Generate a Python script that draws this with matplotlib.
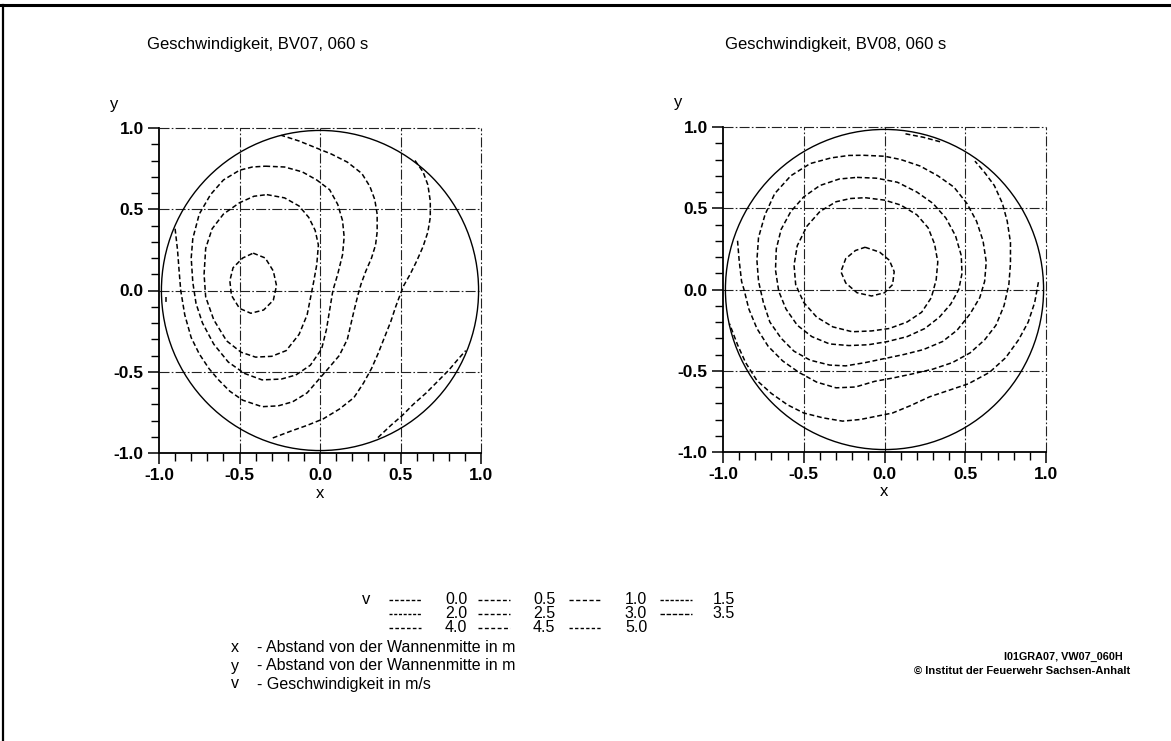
import matplotlib.pyplot as plt
from matplotlib.patches import Circle
from matplotlib.lines import Line2D

plt.rcParams['font.family'] = ['Liberation Sans', 'DejaVu Sans']

W, H = 1171, 741

titles = ["Geschwindigkeit, BV07, 060 s", "Geschwindigkeit, BV08, 060 s"]
tank_radius = 0.985
tick_values = [-1.0, -0.5, 0.0, 0.5, 1.0]
tick_labels = ["-1.0", "-0.5", "0.0", "0.5", "1.0"]

# isolines BV07, (x, y) in m
bv07_c1 = [(-0.415, 0.23), (-0.34, 0.20), (-0.29, 0.12), (-0.27, 0.03), (-0.29, -0.06),
           (-0.35, -0.12), (-0.43, -0.14), (-0.50, -0.11), (-0.55, -0.03), (-0.56, 0.06),
           (-0.54, 0.14), (-0.48, 0.20), (-0.415, 0.23)]
bv07_c2 = [(-0.33, 0.59), (-0.22, 0.57), (-0.13, 0.52), (-0.07, 0.45), (-0.03, 0.37),
           (-0.01, 0.28), (-0.02, 0.16), (-0.04, 0.05), (-0.06, -0.05), (-0.08, -0.15),
           (-0.13, -0.27), (-0.21, -0.37), (-0.30, -0.405), (-0.40, -0.41), (-0.49, -0.38),
           (-0.58, -0.31), (-0.66, -0.18), (-0.71, -0.04), (-0.72, 0.10), (-0.71, 0.26),
           (-0.67, 0.38), (-0.60, 0.47), (-0.50, 0.54), (-0.41, 0.58), (-0.33, 0.59)]
bv07_c3 = [(-0.34, 0.765), (-0.22, 0.76), (-0.11, 0.73), (-0.02, 0.68), (0.06, 0.62),
           (0.11, 0.53), (0.14, 0.43), (0.15, 0.33), (0.14, 0.22), (0.11, 0.10), (0.08, 0.0),
           (0.06, -0.12), (0.04, -0.24), (0.01, -0.36), (-0.06, -0.46), (-0.15, -0.52),
           (-0.24, -0.545), (-0.36, -0.55), (-0.47, -0.51), (-0.57, -0.44), (-0.66, -0.33),
           (-0.73, -0.20), (-0.77, -0.08), (-0.79, 0.05), (-0.80, 0.20), (-0.79, 0.32),
           (-0.75, 0.47), (-0.68, 0.59), (-0.60, 0.68), (-0.50, 0.74), (-0.42, 0.76),
           (-0.34, 0.765)]
bv07_c4 = [(-0.90, 0.38), (-0.885, 0.25), (-0.875, 0.12), (-0.865, 0.0), (-0.84, -0.15),
           (-0.80, -0.29), (-0.75, -0.39), (-0.69, -0.48), (-0.63, -0.55), (-0.56, -0.62),
           (-0.48, -0.675), (-0.36, -0.715), (-0.26, -0.71), (-0.17, -0.685), (-0.08, -0.63),
           (-0.01, -0.55), (0.06, -0.47), (0.12, -0.40), (0.17, -0.30), (0.21, -0.13),
           (0.235, -0.03), (0.255, 0.04), (0.285, 0.12), (0.32, 0.20), (0.345, 0.28),
           (0.355, 0.36), (0.355, 0.47), (0.34, 0.56), (0.31, 0.64), (0.26, 0.72),
           (0.17, 0.79), (0.07, 0.84), (-0.03, 0.88), (-0.13, 0.92), (-0.24, 0.955)]
bv07_c5 = [(0.59, 0.80), (0.64, 0.73), (0.67, 0.65), (0.685, 0.55), (0.685, 0.45),
           (0.67, 0.36), (0.64, 0.27), (0.60, 0.18), (0.56, 0.10), (0.52, 0.03),
           (0.50, -0.02), (0.47, -0.10), (0.44, -0.19), (0.40, -0.29), (0.36, -0.39),
           (0.32, -0.48), (0.27, -0.57), (0.21, -0.66), (0.12, -0.73), (0.02, -0.79),
           (-0.08, -0.83), (-0.18, -0.865), (-0.30, -0.91)]
bv07_c6 = [(0.36, -0.905), (0.44, -0.83), (0.51, -0.77), (0.58, -0.70), (0.66, -0.63),
           (0.73, -0.56), (0.80, -0.49), (0.86, -0.42), (0.905, -0.37)]
bv07_c7 = [(-0.955, -0.04), (-0.955, -0.075)]

# isolines BV08
bv08_c1 = [(-0.12, 0.26), (-0.03, 0.23), (0.03, 0.18), (0.06, 0.11), (0.05, 0.03),
           (0.0, -0.02), (-0.08, -0.04), (-0.17, -0.02), (-0.24, 0.04), (-0.27, 0.11),
           (-0.24, 0.19), (-0.18, 0.24), (-0.12, 0.26)]
bv08_c2 = [(-0.12, 0.565), (0.0, 0.55), (0.10, 0.52), (0.20, 0.46), (0.27, 0.38),
           (0.31, 0.28), (0.33, 0.17), (0.32, 0.06), (0.29, -0.05), (0.23, -0.14),
           (0.14, -0.20), (0.03, -0.24), (-0.08, -0.255), (-0.20, -0.26), (-0.32, -0.23),
           (-0.42, -0.17), (-0.50, -0.08), (-0.55, 0.03), (-0.56, 0.15), (-0.54, 0.27),
           (-0.48, 0.39), (-0.40, 0.48), (-0.30, 0.54), (-0.21, 0.56), (-0.12, 0.565)]
bv08_c3 = [(-0.17, 0.69), (-0.05, 0.685), (0.08, 0.66), (0.20, 0.60), (0.30, 0.53),
           (0.38, 0.44), (0.44, 0.33), (0.475, 0.21), (0.48, 0.10), (0.46, 0.0),
           (0.41, -0.09), (0.34, -0.17), (0.25, -0.24), (0.14, -0.29), (0.02, -0.32),
           (-0.10, -0.34), (-0.22, -0.345), (-0.34, -0.335), (-0.45, -0.29), (-0.54, -0.22),
           (-0.61, -0.12), (-0.655, -0.01), (-0.675, 0.12), (-0.67, 0.25), (-0.64, 0.37),
           (-0.58, 0.48), (-0.50, 0.57), (-0.40, 0.64), (-0.28, 0.68), (-0.17, 0.69)]
bv08_c4 = [(-0.13, 0.826), (0.0, 0.82), (0.10, 0.80), (0.22, 0.76), (0.33, 0.70),
           (0.43, 0.63), (0.51, 0.53), (0.57, 0.42), (0.61, 0.30), (0.63, 0.17),
           (0.62, 0.05), (0.59, -0.05), (0.53, -0.15), (0.45, -0.25), (0.36, -0.32),
           (0.24, -0.37), (0.12, -0.40), (0.0, -0.425), (-0.12, -0.45), (-0.24, -0.47),
           (-0.34, -0.465), (-0.46, -0.435), (-0.56, -0.38), (-0.64, -0.30), (-0.71, -0.20),
           (-0.75, -0.08), (-0.78, 0.05), (-0.79, 0.18), (-0.78, 0.32), (-0.74, 0.46),
           (-0.68, 0.59), (-0.58, 0.70), (-0.46, 0.775), (-0.33, 0.81), (-0.22, 0.825),
           (-0.13, 0.826)]
bv08_c5 = [(-0.91, 0.30), (-0.90, 0.18), (-0.885, 0.05), (-0.87, 0.0), (-0.84, -0.12),
           (-0.79, -0.24), (-0.72, -0.35), (-0.63, -0.44), (-0.53, -0.51), (-0.42, -0.57),
           (-0.30, -0.605), (-0.18, -0.60), (-0.06, -0.565), (0.05, -0.545), (0.17, -0.52),
           (0.30, -0.49), (0.42, -0.45), (0.53, -0.39), (0.62, -0.31), (0.69, -0.22),
           (0.74, -0.10), (0.77, 0.03), (0.78, 0.16), (0.78, 0.29), (0.76, 0.42),
           (0.73, 0.53), (0.68, 0.64), (0.62, 0.72), (0.56, 0.79)]
bv08_c6 = [(0.953, 0.045), (0.93, -0.08), (0.89, -0.20), (0.83, -0.31), (0.75, -0.42),
           (0.65, -0.51), (0.52, -0.58), (0.40, -0.62), (0.28, -0.66), (0.16, -0.715),
           (0.05, -0.76), (-0.05, -0.78), (-0.15, -0.80), (-0.26, -0.81), (-0.38, -0.79),
           (-0.50, -0.76), (-0.60, -0.71), (-0.70, -0.64), (-0.79, -0.56), (-0.86, -0.45),
           (-0.91, -0.34), (-0.96, -0.21)]
bv08_c7 = [(0.13, 0.958), (0.24, 0.937), (0.36, 0.905)]

bv07_lines = [bv07_c1, bv07_c2, bv07_c3, bv07_c4, bv07_c5, bv07_c6, bv07_c7]
bv08_lines = [bv08_c1, bv08_c2, bv08_c3, bv08_c4, bv08_c5, bv08_c6, bv08_c7]

# legend: velocity levels in m/s, three rows of four
legend_levels = [["0.0", "0.5", "1.0", "1.5"],
                 ["2.0", "2.5", "3.0", "3.5"],
                 ["4.0", "4.5", "5.0"]]
legend_dashes = [[(2.6, 1.4), (2.8, 1.6), (3.0, 1.8), (2.4, 1.2)],
                 [(2.2, 1.2), (2.8, 1.6), None, (3.2, 1.2)],
                 [(2.6, 1.6), (2.8, 1.8), (2.4, 1.6)]]

descriptions = [("x", "- Abstand von der Wannenmitte in m"),
                ("y", "- Abstand von der Wannenmitte in m"),
                ("v", "- Geschwindigkeit in m/s")]
source_lines = ["I01GRA07, VW07_060H", "\u00a9 Institut der Feuerwehr Sachsen-Anhalt"]


def fx(px):
    return px / W


def fy(py):
    return 1 - py / H


fig = plt.figure(figsize=(W / 100, H / 100), dpi=100)
fig.patch.set_facecolor("white")

# frame of the sheet
fig.add_artist(Line2D([0, 1], [fy(5), fy(5)], transform=fig.transFigure, color="black", lw=2.2))
fig.add_artist(Line2D([fx(3), fx(3)], [fy(5), 0], transform=fig.transFigure, color="black", lw=1.6))

boxes = [(159, 128, 322, 325), (723, 127, 323, 325)]
title_x = [258, 836]

for box, lines, title, tx in zip(boxes, [bv07_lines, bv08_lines], titles, title_x):
    left, top, w, h = box
    ax = fig.add_axes([fx(left), fy(top + h), w / W, h / H])
    ax.set_xlim(-1, 1)
    ax.set_ylim(-1, 1)
    ax.spines["top"].set_visible(False)
    ax.spines["right"].set_visible(False)
    for s in ["left", "bottom"]:
        ax.spines[s].set_linewidth(1.3)
    ax.set_xticks(tick_values)
    ax.set_xticklabels(tick_labels)
    ax.set_yticks(tick_values)
    ax.set_yticklabels(tick_labels)
    ax.set_xticks([i / 10 - 1 for i in range(21)], minor=True)
    ax.set_yticks([i / 10 - 1 for i in range(21)], minor=True)
    ax.tick_params(which="major", direction="out", length=8, width=1.1,
                   labelsize=12.5, pad=3)
    ax.tick_params(which="minor", direction="out", length=5.5, width=1.0)
    for lab in ax.get_xticklabels() + ax.get_yticklabels():
        lab.set_fontweight("bold")

    # dash-dot grid, also along the open top and right edges
    for g in tick_values[1:]:
        ax.axvline(g, color="#222222", lw=0.8, ls=(0, (9, 2, 1.5, 2)), clip_on=False, zorder=1)
        ax.axhline(g, color="#222222", lw=0.8, ls=(0, (9, 2, 1.5, 2)), clip_on=False, zorder=1)

    ax.add_patch(Circle((0, 0), tank_radius, fill=False, ec="black", lw=1.0, zorder=2))

    for pts in lines:
        xs = [p[0] for p in pts]
        ys = [p[1] for p in pts]
        ax.plot(xs, ys, color="black", lw=1.1, ls=(0, (3.2, 1.8)), zorder=3)

    fig.text(fx(tx), fy(45), title, ha="center", va="center", fontsize=12)
    fig.text(fx(left - 45), fy(top - 24), "y", ha="center", va="center", fontsize=12)
    fig.text(fx(left + w / 2), fy(top + h + 40), "x", ha="center", va="center", fontsize=12)

# legend block
fig.text(fx(366), fy(600), "v", ha="center", va="center", fontsize=12)
col_sample = [389, 478, 569, 660]
col_label = [456, 544, 636, 724]
row_y = [600, 614, 628]
for r, (levels, dashes) in enumerate(zip(legend_levels, legend_dashes)):
    for c, (lev, d) in enumerate(zip(levels, dashes)):
        if d is not None:
            fig.add_artist(Line2D([fx(col_sample[c]), fx(col_sample[c] + 32)],
                                  [fy(row_y[r]), fy(row_y[r])], transform=fig.transFigure,
                                  color="black", lw=1.0, ls=(0, d)))
        fig.text(fx(col_label[c]), fy(row_y[r]), lev, ha="center", va="center",
                 fontsize=11.5)

for i, (sym, desc) in enumerate(descriptions):
    y = 648 + 18 * i
    fig.text(fx(235), fy(y), sym, ha="center", va="center", fontsize=11.5)
    fig.text(fx(257), fy(y), desc, ha="left", va="center", fontsize=11.5)

fig.text(fx(1123), fy(657), source_lines[0], ha="right", va="center", fontsize=7.8,
         fontweight="bold")
fig.text(fx(1130), fy(671), source_lines[1], ha="right", va="center", fontsize=8,
         fontweight="bold")

fig.savefig("out.png", dpi=100)
